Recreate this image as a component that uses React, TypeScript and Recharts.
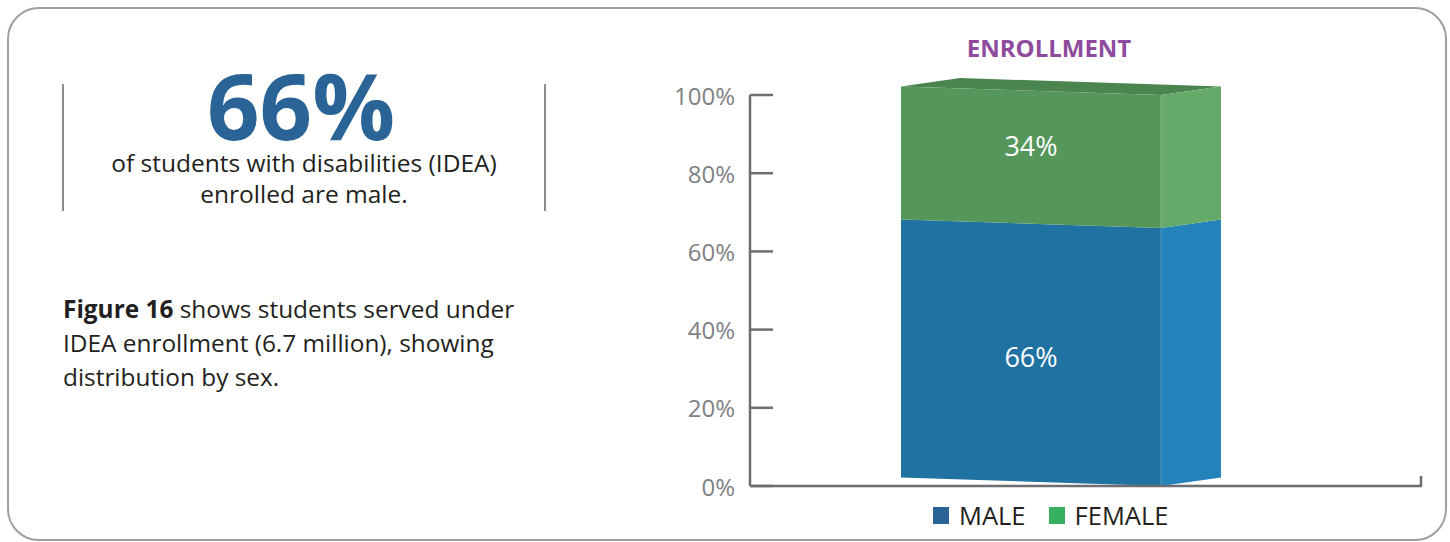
import { Bar, BarChart, LabelList, Legend, XAxis, YAxis } from "recharts";

const categories = ["Enrollment"];
const maleShare = [66];
const femaleShare = [34];
const yTicks = [0, 20, 40, 60, 80, 100];
const legendItems = [
  { key: "male", label: "MALE", color: "#2a6496" },
  { key: "female", label: "FEMALE", color: "#37b05f" },
];

const data = categories.map((name, i) => ({
  name,
  male: maleShare[i],
  female: femaleShare[i],
}));

const FONT = "'Open Sans', 'Noto Sans', sans-serif";
const AXIS = "#6d6e71";

// front / side / top shades of the pseudo-3d box
const faces: Record<string, { front: string; side: string; top: string }> = {
  male: { front: "#1f72a1", side: "#2383ba", top: "#1b6590" },
  female: { front: "#55965a", side: "#65aa69", top: "#4a8550" },
};
const SKEW = 8.5;
const DEPTH = 60;

function BoxSegment(props: any) {
  const { x, y, width: w, height: h, kind, withTop } = props;
  const c = faces[kind];
  const front = `${x},${y - SKEW} ${x + w},${y} ${x + w},${y + h} ${x},${y + h - SKEW}`;
  const side = `${x + w},${y} ${x + w + DEPTH},${y - SKEW} ${x + w + DEPTH},${y + h - SKEW} ${x + w},${y + h}`;
  const top = `${x},${y - SKEW} ${x + DEPTH - 1},${y - 2 * SKEW} ${x + w + DEPTH},${y - SKEW} ${x + w},${y}`;
  return (
    <g>
      {withTop && <polygon points={top} fill={c.top} />}
      <polygon points={front} fill={c.front} />
      <polygon points={side} fill={c.side} />
      <line x1={x + w} y1={y} x2={x + w} y2={y + h} stroke="#ffffff" strokeOpacity={0.25} strokeWidth={1} />
    </g>
  );
}

const segmentLabel = (dy: number) => (p: any) => {
  const { x, y, width, height, value } = p;
  return (
    <text
      x={x + width / 2}
      y={y + height / 2 - SKEW / 2 + dy}
      fill="#ffffff"
      fontSize={27}
      fontFamily={FONT}
      textAnchor="middle"
      dominantBaseline="central"
    >
      {`${value}%`}
    </text>
  );
};

function YTick(p: any) {
  const { x, y, payload } = p;
  return (
    <g>
      <line x1={x} y1={y} x2={x + 23} y2={y} stroke={AXIS} strokeWidth={2.5} />
      <text
        x={x - 15}
        y={y}
        fill="#808184"
        fontSize={24}
        fontFamily={FONT}
        textAnchor="end"
        dominantBaseline="central"
      >
        {`${payload.value}%`}
      </text>
    </g>
  );
}

// small closing tick at the right end of the baseline
function EndTick(p: any) {
  const { x, y } = p;
  return <line x1={x - 1} y1={y + 1} x2={x - 1} y2={y - 10} stroke={AXIS} strokeWidth={2.5} />;
}

function LegendContent() {
  return (
    <div style={{ display: "flex", alignItems: "center", fontFamily: FONT }}>
      {legendItems.map((it, i) => (
        <div key={it.key} style={{ display: "flex", alignItems: "center", marginRight: i === 0 ? 23 : 0 }}>
          <span style={{ width: 16, height: 17, background: it.color, display: "inline-block", marginRight: 10 }} />
          <span style={{ fontSize: 25.5, color: "#231f20", lineHeight: "28px" }}>{it.label}</span>
        </div>
      ))}
    </div>
  );
}

export default function App() {
  return (
    <div
      style={{
        position: "fixed",
        left: 0,
        top: 0,
        width: 1450,
        height: 542,
        background: "#ffffff",
        overflow: "hidden",
        fontFamily: FONT,
      }}
    >
      <div
        style={{
          position: "absolute",
          left: 7,
          top: 7,
          width: 1440,
          height: 534,
          boxSizing: "border-box",
          border: "2.5px solid #9d9fa2",
          borderRadius: 32,
        }}
      />
      <svg width={640} height={542} style={{ position: "absolute", left: 0, top: 0 }}>
        <line x1={63} y1={84} x2={63} y2={211} stroke="#8a8c8e" strokeWidth={2} />
        <line x1={545} y1={84} x2={545} y2={211} stroke="#8a8c8e" strokeWidth={2} />
        <text x={301} y={140} textAnchor="middle" fontFamily={FONT} fontWeight={700} fontSize={92} fill="#2a6395">
          66%
        </text>
        <text x={304} y={172} textAnchor="middle" fontFamily={FONT} fontSize={24.5} fill="#231f20">
          of students with disabilities (IDEA)
        </text>
        <text x={304} y={203} textAnchor="middle" fontFamily={FONT} fontSize={24.5} fill="#231f20">
          enrolled are male.
        </text>
        <text x={63} y={318} fontFamily={FONT} fontSize={24.4} fill="#231f20">
          <tspan fontWeight={700}>Figure 16</tspan> shows students served under
        </text>
        <text x={63} y={352} fontFamily={FONT} fontSize={24.4} fill="#231f20">
          IDEA enrollment (6.7 million), showing
        </text>
        <text x={63} y={386} fontFamily={FONT} fontSize={24.4} fill="#231f20">
          distribution by sex.
        </text>
      </svg>
      <div
        style={{
          position: "absolute",
          left: 949,
          top: 33,
          width: 200,
          textAlign: "center",
          fontSize: 24,
          fontWeight: 700,
          color: "#8e4b9e",
          lineHeight: "30px",
        }}
      >
        ENROLLMENT
      </div>
      <div style={{ position: "absolute", left: 640, top: 0 }}>
        <BarChart width={810} height={542} data={data} margin={{ top: 95, right: 27, bottom: 55, left: 40 }}>
          <XAxis
            dataKey="name"
            height={1}
            tick={false}
            tickLine={false}
            padding={{ left: 0, right: 110 }}
            axisLine={{ stroke: AXIS, strokeWidth: 2.5 }}
          />
          <YAxis
            width={70}
            domain={[0, 100]}
            ticks={yTicks}
            tickSize={0}
            tickMargin={0}
            tickLine={false}
            tick={<YTick />}
            axisLine={{ stroke: AXIS, strokeWidth: 2.5 }}
            interval={0}
          />
          <YAxis
            yAxisId="end"
            orientation="right"
            type="number"
            width={1}
            domain={[0, 100]}
            allowDataOverflow={true}
            ticks={[0]}
            tickSize={0}
            tickMargin={0}
            tickLine={false}
            axisLine={false}
            tick={<EndTick />}
            interval={0}
          />
          <Legend
            layout="horizontal"
            verticalAlign="middle"
            align="center"
            content={<LegendContent />}
            wrapperStyle={{ left: 293, top: 501, width: "auto" }}
          />
          <Bar
            dataKey="male"
            name="MALE"
            stackId="a"
            barSize={260}
            fill="#2a6496"
            isAnimationActive={false}
            shape={(p: any) => <BoxSegment {...p} kind="male" withTop={false} />}
          >
            <LabelList dataKey="male" content={segmentLabel(4)} />
          </Bar>
          <Bar
            dataKey="female"
            name="FEMALE"
            stackId="a"
            barSize={260}
            fill="#37b05f"
            isAnimationActive={false}
            shape={(p: any) => <BoxSegment {...p} kind="female" withTop={true} />}
          >
            <LabelList dataKey="female" content={segmentLabel(-12)} />
          </Bar>
        </BarChart>
      </div>
    </div>
  );
}
